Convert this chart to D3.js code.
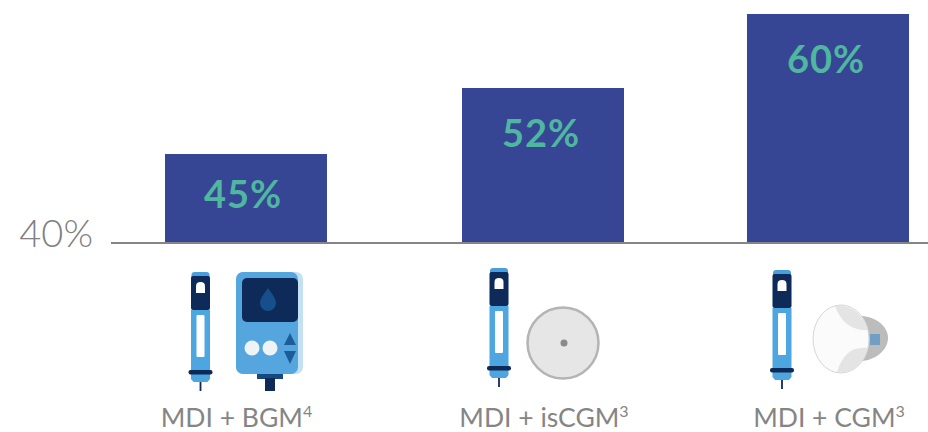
<!DOCTYPE html>
<html>
  <head>
    <title>MDI time in range bars</title>
    <style>
      html, body { margin: 0; padding: 0; background: #fff; }
      svg { display: block; }
      text { font-family: Lato, "Open Sans", sans-serif; }
    </style>
  </head>
  <body>
    <script src="https://d3js.org/d3.v7.min.js"></script>
    <script>
      var w = 928;
      var h = 432;

      var categories = ['MDI + BGM', 'MDI + isCGM', 'MDI + CGM'];
      var notes = ['4', '3', '3'];
      var values = [45, 52, 60];
      var devices = ['meter', 'disc', 'sensor'];
      var baseTick = [40];

      // the original axis is not to scale, so y goes through each value
      var y = d3.scaleLinear().domain([40, 45, 52, 60]).range([243, 154, 88, 14]);
      var x = d3.scaleOrdinal().domain(categories).range([165, 462, 747]);
      var barW = 162;

      var svg = d3.select('body').append('svg').attr('width', w).attr('height', h);

      var defs = svg.append('defs');
      defs.append('filter').attr('id', 'soft').append('feGaussianBlur').attr('stdDeviation', 0.5);

      svg.selectAll('rect.bar').data(values).enter().append('rect')
        .attr('class', 'bar')
        .attr('x', function(d, i) { return x(categories[i]); })
        .attr('y', function(d) { return y(d); })
        .attr('width', barW)
        .attr('height', function(d) { return y(40) - y(d); })
        .attr('fill', '#364694');

      // baseline
      svg.append('line')
        .attr('x1', 111).attr('x2', w)
        .attr('y1', y(40)).attr('y2', y(40))
        .attr('stroke', '#858585').attr('stroke-width', 2);

      var yAxis = d3.axisLeft(y).tickValues(baseTick).tickSize(0).tickPadding(0)
        .tickFormat(function(d) { return d + '%'; });
      var axisG = svg.append('g').attr('transform', 'translate(93,0)').call(yAxis);
      axisG.select('.domain').remove();
      axisG.selectAll('text')
        .attr('font-size', 38).attr('fill', '#808080').attr('font-weight', 300)
        .style('font-family', 'Lato, sans-serif')
        .attr('dy', '0.1em');

      svg.selectAll('text.val').data(values).enter().append('text')
        .attr('class', 'val')
        .attr('x', function(d, i) { return x(categories[i]) + barW / 2 - 3 + (i > 0 ? 1 : 0) ; })
        .attr('y', function(d) {
          var top = y(d);
          return Math.min(top + 59, (top + y(40)) / 2 + 9);
        })
        .attr('text-anchor', 'middle')
        .attr('font-size', 38)
        .attr('font-weight', 700)
        .attr('letter-spacing', 1)
        .attr('fill', '#4fb6a0')
        .text(function(d) { return d + '%'; });

      var labelX = [236.5, 544, 829];
      var labels = svg.selectAll('text.lab').data(categories).enter().append('text')
        .attr('class', 'lab')
        .attr('x', function(d, i) { return labelX[i]; })
        .attr('y', 427)
        .attr('text-anchor', 'middle')
        .attr('font-size', 26.5)
        .attr('font-weight', 400)
        .attr('fill', '#858585');
      labels.append('tspan').text(function(d) { return d; });
      labels.append('tspan')
        .attr('font-size', 16)
        .attr('dy', -10)
        .text(function(d, i) { return notes[i]; });

      // ---- little device pictures ----
      function drawPen(g) {
        g.append('rect').attr('x', -9).attr('y', 0).attr('width', 18).attr('height', 14).attr('rx', 3).attr('fill', '#4a9fdc');
        g.append('rect').attr('x', -9.5).attr('y', 4).attr('width', 19).attr('height', 34).attr('rx', 2).attr('fill', '#0b2a58');
        g.append('path').attr('d', 'M-4.5 21V14Q-4.5 10 0 10Q4.5 10 4.5 14V21Z').attr('fill', '#fff');
        g.append('path').attr('d', 'M-9.5 38H9.5V107L7 110H-7L-9.5 107Z').attr('fill', '#4ea6e0');
        g.append('rect').attr('x', -4).attr('y', 43).attr('width', 8).attr('height', 42).attr('rx', 1).attr('fill', '#fff');
        g.append('rect').attr('x', -12).attr('y', 98).attr('width', 24).attr('height', 4.5).attr('rx', 2).attr('fill', '#0b2a58');
        g.append('line').attr('x1', 0).attr('x2', 0).attr('y1', 110).attr('y2', 119).attr('stroke', '#0b2a58').attr('stroke-width', 1.8);
      }

      function drawMeter(g) {
        g.append('rect').attr('x', 257).attr('y', 372).attr('width', 26).attr('height', 7).attr('fill', '#12497f');
        g.append('rect').attr('x', 265).attr('y', 378).attr('width', 10).attr('height', 13).attr('fill', '#0b2a58');
        g.append('rect').attr('x', 236).attr('y', 272).attr('width', 67).attr('height', 102).attr('rx', 7).attr('fill', '#c4e0f3');
        g.append('rect').attr('x', 236).attr('y', 272).attr('width', 62).attr('height', 102).attr('rx', 7).attr('fill', '#54a6de');
        g.append('rect').attr('x', 242).attr('y', 278).attr('width', 56).attr('height', 44).attr('rx', 5).attr('fill', '#0b2a58');
        g.append('path').attr('d', 'M268 288C272 294 276 298 276 303A8 8 0 0 1 260 303C260 298 264 294 268 288Z').attr('fill', '#14508c');
        g.selectAll('circle.btn').data([252, 270]).enter().append('circle')
          .attr('class', 'btn').attr('cx', function(d) { return d; }).attr('cy', 348).attr('r', 7.5).attr('fill', '#eef3f6');
        g.append('path').attr('d', 'M290 333L296 345H284Z').attr('fill', '#1c5d99');
        g.append('path').attr('d', 'M290 364L296 351H284Z').attr('fill', '#1c5d99');
      }

      function drawDisc(g) {
        g.append('circle').attr('cx', 563).attr('cy', 343).attr('r', 35.5).attr('fill', '#e6e6e6').attr('stroke', '#b4b4b4').attr('stroke-width', 2.5);
        g.append('circle').attr('cx', 564).attr('cy', 343).attr('r', 3.5).attr('fill', '#8a8a8a');
      }

      function drawSensor(g) {
        g.append('path').attr('d', 'M860 316C875 316 888 326 888 338C888 350 875 361 860 361Z').attr('fill', '#bcbcbc');
        g.append('rect').attr('x', 870).attr('y', 334).attr('width', 10).attr('height', 11).attr('fill', '#6f9ec4');
        g.append('ellipse').attr('cx', 841).attr('cy', 339).attr('rx', 28).attr('ry', 34).attr('fill', '#fbfbfb').attr('stroke', '#d5d5d5').attr('stroke-width', 1);
        g.append('path').attr('d', 'M835 306C850 304 862 312 868 330C855 331 842 325 835 306Z').attr('fill', '#e4e4e4');
        g.append('path').attr('d', 'M837 372C852 374 862 366 868 348C852 346 842 355 837 372Z').attr('fill', '#e4e4e4');
      }

      var penX = [200.5, 499, 782];
      var penY = [272, 268, 270];
      var icons = svg.append('g').attr('filter', 'url(#soft)');
      devices.forEach(function(kind, i) {
        drawPen(icons.append('g').attr('transform', 'translate(' + penX[i] + ',' + penY[i] + ')'));
        if (kind === 'meter') drawMeter(icons.append('g'));
        if (kind === 'disc') drawDisc(icons.append('g'));
        if (kind === 'sensor') drawSensor(icons.append('g'));
      });
    </script>
  </body>
</html>
